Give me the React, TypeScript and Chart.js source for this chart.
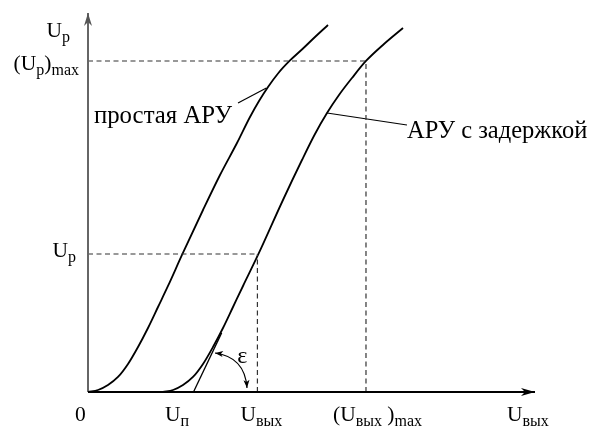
import React, { useEffect, useRef } from "react";
import { Chart, registerables } from "chart.js";

Chart.register(...registerables);

// ---------- data (axis units: x and y both 0..10) ----------
const axisMax = 10;

// "простая АРУ" characteristic
const simpleAgcX = [0, 0.224, 0.447, 0.671, 0.895, 1.119, 1.342, 1.566, 1.79, 2.103, 2.573, 2.953, 3.333, 3.624, 3.826, 4.027, 4.251, 4.519, 4.81, 5.078, 5.369];
const simpleAgcY = [0, 0.053, 0.185, 0.396, 0.739, 1.187, 1.689, 2.243, 2.797, 3.615, 4.802, 5.726, 6.57, 7.256, 7.678, 8.047, 8.404, 8.747, 9.063, 9.367, 9.683];

// "АРУ с задержкой" characteristic
const delayedAgcX = [1.678, 1.902, 2.125, 2.349, 2.573, 2.796, 3.02, 3.244, 3.468, 3.803, 4.362, 4.787, 5.078, 5.347, 5.615, 5.906, 6.219, 6.622, 7.047];
const delayedAgcY = [0, 0.053, 0.185, 0.396, 0.739, 1.187, 1.689, 2.243, 2.797, 3.615, 5.066, 6.121, 6.807, 7.361, 7.836, 8.285, 8.734, 9.182, 9.604];

// tangent to the linear part of the delayed curve
const tangentX = [2.36, 2.99];
const tangentY = [0, 1.56];

// characteristic levels
const uThreshold = 1.678; // Uп
const uOut = 3.79; // Uвых
const uOutMax = 6.219; // (Uвых)max
const uReg = 3.641; // Uр
const uRegMax = 8.734; // (Uр)max

// leader lines
const leaderSimpleX = [3.356, 3.99];
const leaderSimpleY = [7.625, 8.02];
const leaderDelayedX = [5.347, 7.136];
const leaderDelayedY = [7.361, 7.045];

// epsilon arc (start, control, end)
const epsArcX = [2.841, 3.512, 3.557];
const epsArcY = [1.029, 0.923, 0.106];
const epsLabelX = 3.45;
const epsLabelY = 0.95;

type Seg = [string, number];
const xTickValues = [0, uThreshold, uOut, uOutMax, axisMax];
const xTickLabels: Seg[][] = [
  [["0", 0]],
  [["U", 0], ["п", 1]],
  [["U", 0], ["вых", 1]],
  [["(U", 0], ["вых", 1], [" )", 0], ["max", 1]],
  [["U", 0], ["вых", 1]],
];
const yTickValues = [axisMax, uRegMax, uReg];
const yTickLabels: Seg[][] = [
  [["U", 0], ["р", 1]],
  [["(U", 0], ["р", 1], [")", 0], ["max", 1]],
  [["U", 0], ["р", 1]],
];
const simpleLabel = "простая АРУ";
const delayedLabel = "АРУ с задержкой";
const epsLabel = "ε";

// ---------- styles (pixel offsets / fonts) ----------
const FONT = '"Liberation Serif", "DejaVu Serif", serif';
const MAIN = 21.5;
const SUB = 16;
const SUB_DROP = 5;
const xTickLeftOffsets = [-13, 2, -17, -33, -28];
const xTickDrop = 29;
const yTickRightX = [70, 79, 76];
const yTickDy = [24, 9, 3];

function drawRich(ctx: CanvasRenderingContext2D, segs: Seg[], x: number, y: number, align: "left" | "right" | "center") {
  const widths = segs.map(([t, s]) => {
    ctx.font = `${s ? SUB : MAIN}px ${FONT}`;
    return ctx.measureText(t).width;
  });
  const total = widths.reduce((a, b) => a + b, 0);
  let cx = align === "left" ? x : align === "right" ? x - total : x - total / 2;
  segs.forEach(([t, s], i) => {
    ctx.font = `${s ? SUB : MAIN}px ${FONT}`;
    ctx.fillText(t, cx, s ? y + SUB_DROP : y);
    cx += widths[i];
  });
}

function arrowHead(ctx: CanvasRenderingContext2D, tx: number, ty: number, angle: number, len: number, half: number, notch: number, color: string) {
  ctx.save();
  ctx.translate(tx, ty);
  ctx.rotate(angle);
  ctx.fillStyle = color;
  ctx.beginPath();
  ctx.moveTo(0, 0);
  ctx.lineTo(-len, -half);
  ctx.lineTo(-notch, 0);
  ctx.lineTo(-len, half);
  ctx.closePath();
  ctx.fill();
  ctx.restore();
}

const annotationPlugin = {
  id: "agcAnnotations",
  afterDatasetsDraw(chart: any) {
    const ctx: CanvasRenderingContext2D = chart.ctx;
    const xs = chart.scales.x;
    const ys = chart.scales.y;
    const px = (v: number) => xs.getPixelForValue(v);
    const py = (v: number) => ys.getPixelForValue(v);
    ctx.save();
    ctx.textBaseline = "alphabetic";
    ctx.textAlign = "left";
    ctx.fillStyle = "#000";

    // axis arrowheads
    arrowHead(ctx, px(0), py(axisMax), -Math.PI / 2, 13, 4, 9, "#555");
    arrowHead(ctx, px(axisMax), py(0), 0, 14, 4, 10, "#000");

    // epsilon arc with arrowheads on both ends
    const p0 = [px(epsArcX[0]), py(epsArcY[0])];
    const c = [px(epsArcX[1]), py(epsArcY[1])];
    const p2 = [px(epsArcX[2]), py(epsArcY[2])];
    ctx.strokeStyle = "#000";
    ctx.lineWidth = 1.2;
    ctx.beginPath();
    ctx.moveTo(p0[0], p0[1]);
    ctx.quadraticCurveTo(c[0], c[1], p2[0], p2[1]);
    ctx.stroke();
    arrowHead(ctx, p0[0], p0[1], Math.atan2(p0[1] - c[1], p0[0] - c[0]), 8, 3, 6, "#000");
    arrowHead(ctx, p2[0], p2[1], Math.atan2(p2[1] - c[1], p2[0] - c[0]), 8, 3, 6, "#000");

    ctx.fillStyle = "#000";
    ctx.font = `24px ${FONT}`;
    ctx.textAlign = "center";
    ctx.fillText(epsLabel, px(epsLabelX), py(epsLabelY) + 7);
    ctx.textAlign = "left";

    xTickValues.forEach((v, i) => {
      drawRich(ctx, xTickLabels[i], px(v) + xTickLeftOffsets[i], py(0) + xTickDrop, "left");
    });
    yTickValues.forEach((v, i) => {
      drawRich(ctx, yTickLabels[i], yTickRightX[i], py(v) + yTickDy[i], "right");
    });

    ctx.font = `24.8px ${FONT}`;
    ctx.textAlign = "right";
    ctx.fillText(simpleLabel, px(leaderSimpleX[0]) - 6, py(leaderSimpleY[0]) + 20);
    ctx.font = `24.5px ${FONT}`;
    ctx.textAlign = "left";
    ctx.fillText(delayedLabel, px(leaderDelayedX[1]), py(leaderDelayedY[1]) + 13);

    ctx.restore();
  },
};

export default function App() {
  const ref = useRef<HTMLCanvasElement>(null);
  useEffect(() => {
    const canvas = ref.current;
    if (!canvas) return;
    const pts = (xs: number[], ys: number[]) => xs.map((x, i) => ({ x, y: ys[i] }));
    const base = { pointRadius: 0, fill: false, clip: false as any, borderColor: "#000", tension: 0 };
    const dashed = { ...base, borderColor: "#333", borderWidth: 1.2, borderDash: [5, 3.5] };
    const chart = new Chart(canvas, {
      type: "line",
      data: {
        datasets: [
          { ...base, data: pts([0, axisMax], [0, 0]), borderWidth: 1.8, borderColor: "#000" },
          { ...base, data: pts([0, 0], [0, axisMax]), borderWidth: 2, borderColor: "#666" },
          { ...dashed, data: pts([0, uOut], [uReg, uReg]) },
          { ...dashed, data: pts([uOut, uOut], [0, uReg]) },
          { ...dashed, data: pts([0, uOutMax], [uRegMax, uRegMax]) },
          { ...dashed, data: pts([uOutMax, uOutMax], [0, uRegMax]) },
          { ...base, label: simpleLabel, data: pts(simpleAgcX, simpleAgcY), borderWidth: 1.8, cubicInterpolationMode: "monotone" },
          { ...base, label: delayedLabel, data: pts(delayedAgcX, delayedAgcY), borderWidth: 1.8, cubicInterpolationMode: "monotone" },
          { ...base, data: pts(tangentX, tangentY), borderWidth: 1.3 },
          { ...base, data: pts(leaderSimpleX, leaderSimpleY), borderWidth: 1.2 },
          { ...base, data: pts(leaderDelayedX, leaderDelayedY), borderWidth: 1.2 },
        ] as any,
      },
      options: {
        animation: false,
        responsive: false,
        devicePixelRatio: 1,
        layout: { padding: { left: 88, right: 58, top: 13, bottom: 36 } },
        scales: {
          x: { type: "linear", min: 0, max: axisMax, display: false },
          y: { type: "linear", min: 0, max: axisMax, display: false },
        },
        plugins: { legend: { display: false }, tooltip: { enabled: false } },
      },
      plugins: [annotationPlugin],
    });
    return () => chart.destroy();
  }, []);
  return (
    <div style={{ position: "absolute", left: 0, top: 0, width: 593, height: 428, background: "#fff" }}>
      <canvas ref={ref} width={593} height={428} style={{ display: "block" }} />
    </div>
  );
}
